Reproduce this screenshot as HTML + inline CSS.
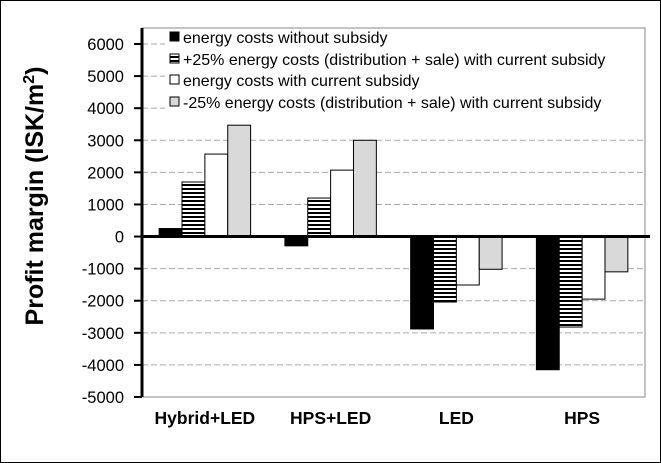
<!DOCTYPE html>
<html><head><meta charset="utf-8"><style>
html,body{margin:0;padding:0;background:#fff}
svg{display:block}
text{font-family:"Liberation Sans",Arial,sans-serif}
</style></head><body>
<svg id="chart" width="661" height="463" viewBox="0 0 661 463" xmlns="http://www.w3.org/2000/svg">
<defs>
<pattern id="stripes" patternUnits="userSpaceOnUse" width="6" height="4">
<rect width="6" height="4" fill="#fff"/><rect width="6" height="2" fill="#000"/>
</pattern>
</defs>
<rect x="0.5" y="0.5" width="660" height="462" fill="#fff" stroke="#000"/>
<rect x="142" y="28" width="503" height="369" fill="#fff" stroke="#888" stroke-width="1"/>
<g id="grid"></g>
<g id="bars"></g>
<g id="axes"></g>
<text transform="translate(43,196) rotate(-90)" text-anchor="middle" font-size="25" font-weight="bold">Profit margin (ISK/m<tspan dy="-9" font-size="16">2</tspan><tspan dy="9">)</tspan></text>
<g id="legend"></g>
</svg>
<script>
const categories = ["Hybrid+LED","HPS+LED","LED","HPS"];
const seriesNames = ["energy costs without subsidy","+25% energy costs (distribution + sale) with current subsidy","energy costs with current subsidy","-25% energy costs (distribution + sale) with current subsidy"];
const noSubsidy = [250, -290, -2880, -4150];
const plus25 = [1700, 1200, -2040, -2820];
const currentSubsidy = [2570, 2070, -1510, -1950];
const minus25 = [3470, 3000, -1020, -1100];
const yTicks = [6000,5000,4000,3000,2000,1000,0,-1000,-2000,-3000,-4000,-5000];

const NS="http://www.w3.org/2000/svg";
const svg=document.getElementById('chart');
const X0=142,X1=645,YT=44,YB=397,VMAX=6000,VMIN=-5000;
function y(v){return YT+(VMAX-v)/(VMAX-VMIN)*(YB-YT);}
const groupW=(X1-X0)/categories.length, barW=groupW/5.5;
function mk(tag,attrs,parent){const e=document.createElementNS(NS,tag);for(const k in attrs)e.setAttribute(k,attrs[k]);parent.appendChild(e);return e;}
const series=[noSubsidy,plus25,currentSubsidy,minus25];
const fills=["#000","url(#stripes)","#fff","#d9d9d9"];
const grid=document.getElementById('grid'),bars=document.getElementById('bars'),axes=document.getElementById('axes');
yTicks.forEach(t=>{
  if(t!==0 && t!==VMIN){
    const g=mk('line',{x1:X0,x2:X1,y1:y(t),y2:y(t),stroke:'#aaa','stroke-dasharray':'6,3'},grid);
    
    
  }
  const tk=mk('line',{x1:X0-8,x2:X0,y1:y(t),y2:y(t),stroke:'#000','stroke-width':2},axes);
  
  
  const lb=mk('text',{x:124,y:y(t)+6,'text-anchor':'end','font-size':16.5},axes);
  lb.textContent=t;
  
  
});
series.forEach((s,si)=>{
  s.forEach((v,ci)=>{
    const x=X0+ci*groupW+barW*0.75+si*barW;
    const top=Math.min(y(v),y(0)),h=Math.abs(y(v)-y(0));
    const r=mk('rect',{x:x,y:top,width:barW,height:h,fill:fills[si],stroke:'#000','stroke-width':1},bars);
    
    
  });
});
const ya=mk('line',{x1:X0,x2:X0,y1:28,y2:YB,stroke:'#000','stroke-width':3},axes);


const xa=mk('line',{x1:X0,x2:X1+5,y1:y(0),y2:y(0),stroke:'#000','stroke-width':3},axes);


categories.forEach((c,ci)=>{
  const t=mk('text',{x:X0+ci*groupW+groupW/2,y:424,'text-anchor':'middle','font-size':17.5,'font-weight':'bold'},axes);
  t.textContent=c;
  
  
});
const leg=document.getElementById('legend');
mk('rect',{x:165,y:29,width:478,height:82,fill:'#fff'},leg);
const ly=[37,59,80,102];
seriesNames.forEach((n,i)=>{
  const sw=mk('rect',{x:170,y:ly[i]-5,width:9,height:9,fill:fills[i],stroke:'#000','stroke-width':1},leg);
  
  
  const t=mk('text',{x:183,y:ly[i]+6,'font-size':16},leg);
  t.textContent=n;
  
  
});
</script>
</body></html>
